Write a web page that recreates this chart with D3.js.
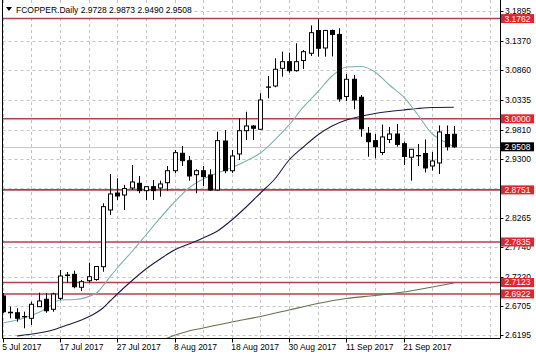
<!DOCTYPE html>
<html><head><meta charset="utf-8">
<script src="https://cdn.jsdelivr.net/npm/d3@7"></script>
<style>
body{margin:0;background:#fff}
svg{display:block}
text{font-family:"Liberation Sans",Arial,sans-serif;font-size:8.5px}
</style>
</head><body>
<svg id="c" width="536" height="358"></svg>
<script>
// ---------- data ----------
const title = "FCOPPER.Daily";
const lastOHLC = ["2.9728","2.9873","2.9490","2.9508"];
const dateLabels = ["5 Jul 2017","17 Jul 2017","27 Jul 2017","8 Aug 2017","18 Aug 2017","30 Aug 2017","11 Sep 2017","21 Sep 2017"];
const dateLabelBars = [0,8,16,24,32,40,48,56];
const priceTicks = [2.6195,2.6705,2.7220,2.7740,2.8265,2.8780,2.9300,2.9810,3.0335,3.0860,3.1370,3.1895];
const priceTickLabels = [2.6195,2.6705,2.7220,2.7740,2.8265,2.9300,2.9810,3.0335,3.0860,3.1370,3.1895];
const levels = [3.1762,3.0000,2.8751,2.7835,2.7123,2.6922];
const currentPrice = 2.9508;

const open  = [2.6886,2.6600,2.6592,2.6525,2.6494,2.6698,2.6828,2.6652,2.6845,2.7255,
               2.7267,2.7039,2.7155,2.7176,2.7401,2.8398,2.8696,2.8661,2.8784,2.8867,
               2.8737,2.8807,2.8784,2.8877,2.9088,2.9394,2.9264,2.9018,2.9088,2.9013,
               2.8749,2.9610,2.9088,2.9382,2.9791,2.9874,2.9816,3.0554,3.0577,3.0888,
               3.1004,3.0846,3.1025,3.1152,3.1553,3.1245,3.1553,3.1483,3.0393,3.0695,
               3.0379,2.9746,2.9616,2.9408,2.9637,2.9733,2.9563,2.9324,2.9356,2.9391,
               2.9171,2.9224,2.9725,2.9728];
const high  = [2.6939,2.6698,2.6670,2.6610,2.6786,2.6944,2.6933,2.6944,2.7343,2.7308,
               2.7331,2.7167,2.7471,2.7413,2.8515,2.9030,2.8955,2.8837,2.9189,2.8995,
               2.8819,2.8925,2.8913,2.9171,2.9452,2.9523,2.9347,2.9113,2.9171,2.9113,
               2.9774,2.9804,2.9452,3.0009,3.0125,2.9892,3.0449,3.0753,3.1064,3.1180,
               3.1163,3.1328,3.1210,3.1641,3.1750,3.1562,3.1570,3.1591,3.0788,3.0771,
               3.0419,2.9857,2.9733,2.9900,2.9857,2.9909,2.9602,2.9470,2.9558,2.9637,
               2.9417,2.9883,2.9883,2.9873];
const low   = [2.6587,2.6494,2.6434,2.6318,2.6376,2.6692,2.6592,2.6610,2.6816,2.7114,
               2.7021,2.6974,2.7114,2.7155,2.7313,2.8310,2.8573,2.8398,2.8749,2.8691,
               2.8573,2.8573,2.8631,2.8737,2.9043,2.9171,2.8913,2.8691,2.8819,2.8737,
               2.8737,2.9043,2.9048,2.9276,2.9628,2.9628,2.9804,3.0361,3.0554,3.0741,
               3.0811,3.0829,3.0876,3.1105,3.1096,3.1092,3.1096,3.0301,3.0313,3.0168,
               2.9686,2.9334,2.9306,2.9364,2.9575,2.9510,2.9189,2.8913,2.9171,2.9057,
               2.9092,2.9030,2.9443,2.9490];
const close = [2.6610,2.6590,2.6494,2.6520,2.6740,2.6798,2.6627,2.6921,2.7237,2.7245,
               2.7049,2.7137,2.7225,2.7404,2.8456,2.8679,2.8644,2.8775,2.8890,2.8737,
               2.8807,2.8737,2.8855,2.9088,2.9405,2.9264,2.8995,2.9088,2.8983,2.8749,
               2.9616,2.9088,2.9347,2.9791,2.9874,2.9834,3.0331,3.0560,3.0871,3.1004,
               3.0846,3.1004,3.1180,3.1514,3.1240,3.1553,3.1483,3.0349,3.0695,3.0331,
               2.9825,2.9598,2.9510,2.9681,2.9733,2.9549,2.9338,2.9465,2.9350,2.9136,
               2.9259,2.9769,2.9510,2.9508];

// moving averages: [bar index, value]
const maFast = [[0,2.6411],[3,2.6499],[6,2.6657],[8,2.6816],[10,2.6824],[13,2.6930],[14,2.7062],
  [15,2.7225],[16,2.7378],[18,2.7659],[20,2.7958],[22,2.8257],[24,2.8538],[26,2.8784],[28,2.8942],
  [30,2.9048],[32,2.9145],[34,2.9259],[36,2.9399],[38,2.9628],[40,2.9892],[42,3.0208],[44,3.0472],
  [46,3.0753],[48,3.0911],[50,3.0920],[52,3.0823],[54,3.0595],[56,3.0384],[58,3.0067],[60,2.9733],
  [61,2.9646],[62,2.9575],[63,2.9510]];
const maMid = [[2,2.6183],[3,2.6200],[5,2.6235],[7,2.6288],[9,2.6376],[11,2.6464],[13,2.6587],
  [14,2.6675],[15,2.6798],[16,2.6921],[18,2.7149],[20,2.7360],[22,2.7536],[24,2.7694],[26,2.7800],
  [28,2.7905],[30,2.8028],[32,2.8222],[34,2.8450],[36,2.8696],[38,2.8942],[40,2.9276],[42,2.9505],
  [44,2.9716],[46,2.9874],[48,2.9980],[50,3.0041],[52,3.0094],[54,3.0129],[56,3.0155],[58,3.0182],
  [60,3.0199],[63,3.0203]];
const maSlow = [[22,2.6095],[23,2.6148],[26,2.6271],[28,2.6323],[32,2.6429],[36,2.6525],[40,2.6640],
  [44,2.6754],[48,2.6842],[52,2.6895],[56,2.6956],[60,2.7044],[63,2.7114]];

// ---------- layout ----------
const L = 2.5, R = 500.5, T = 0, B = 338.5;
const svg = d3.select("#c");
const x = d3.scaleLinear().domain([0, 68]).range([2.7, 2.7 + 68 * 7.16]);
const y = d3.scaleLinear().domain([2.6195, 3.1895]).range([335.3, 11]);

svg.append("defs").append("clipPath").attr("id","clip")
  .append("rect").attr("x",L).attr("y",T).attr("width",R-L).attr("height",B-T);
const plot = svg.append("g").attr("clip-path","url(#clip)");

// grid
const gridX = d3.range(0, 69, 4);
plot.append("g").selectAll("line").data(gridX).join("line")
  .attr("x1",d=>Math.round(x(d))+0.5).attr("x2",d=>Math.round(x(d))+0.5)
  .attr("y1",T).attr("y2",B)
  .attr("stroke","#c4c4c4").attr("stroke-dasharray","3,3").attr("stroke-width",1);
plot.append("g").selectAll("line").data(priceTicks).join("line")
  .attr("x1",L).attr("x2",R)
  .attr("y1",d=>Math.round(y(d))+0.5).attr("y2",d=>Math.round(y(d))+0.5)
  .attr("stroke","#c4c4c4").attr("stroke-dasharray","3,3").attr("stroke-width",1);

// current price line
plot.append("line").attr("x1",L).attr("x2",R)
  .attr("y1",Math.round(y(currentPrice))+0.5).attr("y2",Math.round(y(currentPrice))+0.5)
  .attr("stroke","#c8c8c8").attr("stroke-width",1);

// level lines
plot.append("g").selectAll("line").data(levels).join("line")
  .attr("x1",L).attr("x2",R)
  .attr("y1",d=>y(d)).attr("y2",d=>y(d))
  .attr("stroke","#b3404c").attr("stroke-width",1.6);

// moving averages
const line = d3.line().x(d=>x(d[0])).y(d=>y(d[1])).curve(d3.curveMonotoneX);
plot.append("path").attr("d",line(maSlow)).attr("fill","none").attr("stroke","#63734f").attr("stroke-width",1.1);
plot.append("path").attr("d",line(maMid)).attr("fill","none").attr("stroke","#1c1b45").attr("stroke-width",1.1);
plot.append("path").attr("d",line(maFast)).attr("fill","none").attr("stroke","#7fb0ae").attr("stroke-width",1.1);

// candles
const bars = d3.range(open.length);
const cg = plot.append("g");
cg.selectAll("line.w").data(bars).join("line").attr("class","w")
  .attr("x1",i=>Math.round(x(i))+0.5).attr("x2",i=>Math.round(x(i))+0.5)
  .attr("y1",i=>y(high[i])).attr("y2",i=>y(low[i]))
  .attr("stroke","#000").attr("stroke-width",1);
cg.selectAll("rect").data(bars).join("rect")
  .attr("x",i=>Math.round(x(i))-1.5)
  .attr("width",4)
  .attr("y",i=>Math.min(y(open[i]),y(close[i])))
  .attr("height",i=>Math.max(0.01,Math.abs(y(open[i])-y(close[i]))))
  .attr("fill",i=>close[i]>=open[i]?"#fff":"#000")
  .attr("stroke","#000").attr("stroke-width",1);

// axes frame
svg.append("line").attr("x1",L).attr("x2",L).attr("y1",T).attr("y2",B).attr("stroke","#000");
svg.append("line").attr("x1",R).attr("x2",R).attr("y1",T).attr("y2",B).attr("stroke","#000");
svg.append("line").attr("x1",L).attr("x2",R).attr("y1",B).attr("y2",B).attr("stroke","#000");

// right axis ticks & labels
const ra = svg.append("g");
ra.selectAll("line").data(priceTicks).join("line")
  .attr("x1",R).attr("x2",R+3)
  .attr("y1",d=>Math.round(y(d))+0.5).attr("y2",d=>Math.round(y(d))+0.5)
  .attr("stroke","#000");
ra.selectAll("text").data(priceTickLabels).join("text")
  .attr("x",505).attr("y",d=>y(d)).attr("dy","0.35em")
  .attr("fill","#000").text(d=>d.toFixed(4));

// bottom axis
const ba = svg.append("g");
ba.selectAll("line").data(dateLabelBars).join("line")
  .attr("x1",i=>Math.round(x(i))+0.5).attr("x2",i=>Math.round(x(i))+0.5)
  .attr("y1",B).attr("y2",B+4).attr("stroke","#000");
ba.selectAll("text").data(dateLabels).join("text")
  .attr("x",(d,k)=>x(dateLabelBars[k])-0.5).attr("y",350)
  .attr("fill","#000").text(d=>d);

// level labels
const lv = svg.append("g");
lv.selectAll("rect").data(levels).join("rect")
  .attr("x",501).attr("y",d=>y(d)-4.5).attr("width",33).attr("height",9)
  .attr("fill","#e3242b");
lv.selectAll("text").data(levels).join("text")
  .attr("x",504.5).attr("y",d=>y(d)).attr("dy","0.35em")
  .attr("fill","#fff").text(d=>d.toFixed(4));

// current price label
svg.append("rect").attr("x",501).attr("y",y(currentPrice)-4.5).attr("width",33).attr("height",9).attr("fill","#000");
svg.append("text").attr("x",504.5).attr("y",y(currentPrice)).attr("dy","0.35em").attr("fill","#fff").text(currentPrice.toFixed(4));

// title
const tg = svg.append("g");
const tt = tg.append("text").attr("x",16).attr("y",13).attr("fill","#000")
  .text(title + "  " + lastOHLC.join(" "));
const bb = tt.node().getBBox();
tg.insert("rect","text").attr("x",3).attr("y",3).attr("width",bb.x+bb.width+2-3).attr("height",14).attr("fill","#fff");
tg.append("path").attr("d","M6,7 L12,7 L9,11 Z").attr("fill","#000");
</script>
</body></html>
